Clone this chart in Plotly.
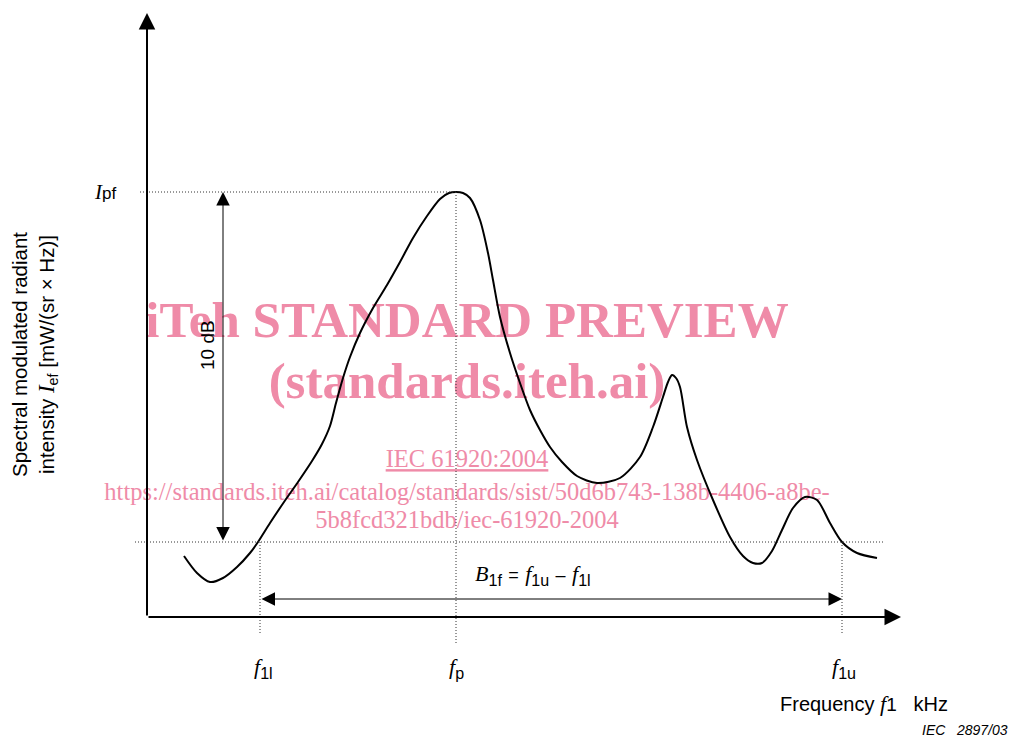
import plotly.graph_objects as go

# ---- data (arbitrary schematic units: frequency, spectral intensity) ----
freq = [3.7, 5.0, 6.3, 7.6, 9.0, 10.3, 11.1, 12.3, 13.7, 15.1,
        16.5, 17.5, 18.3, 18.9, 19.6, 20.3, 21.3, 22.6, 24.0, 25.3,
        26.6, 28.0, 29.3, 30.2, 30.9, 31.6, 32.3, 33.3, 34.1, 34.6,
        35.3, 36.3, 37.3, 38.3, 39.3, 40.3, 41.5, 43.0, 45.0, 47.3,
        49.3, 50.6, 51.6, 52.1, 52.5, 52.9, 53.3, 54.0, 55.0, 56.6,
        58.3, 59.6, 60.6, 61.5, 62.5, 63.5, 64.6, 65.8, 67.0, 68.3,
        69.5, 71.0, 73.0]
intensity = [6.1, 4.4, 3.5, 3.9, 5.0, 6.4, 7.5, 9.4, 11.5, 13.5,
             15.6, 17.3, 19.1, 21.4, 23.9, 26.0, 28.4, 30.9, 33.2, 35.5,
             37.9, 40.1, 41.8, 42.4, 42.5, 42.4, 41.9, 39.7, 36.4, 33.7,
             30.0, 26.4, 23.4, 20.7, 18.7, 17.0, 15.5, 14.1, 13.4, 13.9,
             16.0, 19.0, 22.0, 23.5, 24.2, 23.9, 23.0, 19.0, 15.7, 11.7,
             8.0, 6.1, 5.4, 5.4, 6.6, 8.7, 10.9, 12.0, 11.7, 9.4,
             7.5, 6.4, 5.9]

f_1l = 11.3      # lower band limit
f_p = 30.9       # peak frequency
f_1u = 69.5      # upper band limit
I_pf = 42.5      # peak intensity
I_10dB = 7.5     # level 10 dB below peak
x_axis_end = 75.4
y_axis_end = 60.4

watermark = ["iTeh STANDARD PREVIEW", "(standards.iteh.ai)", "IEC 61920:2004",
             "https://standards.iteh.ai/catalog/standards/sist/50d6b743-138b-4406-a8be-",
             "5b8fcd321bdb/iec-61920-2004"]

PINK = "rgb(239,139,168)"
SERIF = "Liberation Serif"
SANS = "Liberation Sans"

fig = go.Figure()

# watermark (drawn below the curve)
wm_x = 32.0
fig.add_trace(go.Scatter(x=[wm_x], y=[29.3], mode="text", text=["<b>" + watermark[0] + "</b>"],
                         textfont=dict(family=SERIF, size=51, color=PINK), hoverinfo="skip", showlegend=False))
fig.add_trace(go.Scatter(x=[wm_x], y=[23.2], mode="text", text=["<b>" + watermark[1] + "</b>"],
                         textfont=dict(family=SERIF, size=51, color=PINK), hoverinfo="skip", showlegend=False))
fig.add_trace(go.Scatter(x=[wm_x], y=[15.6], mode="text", text=["<u>" + watermark[2] + "</u>"],
                         textfont=dict(family=SERIF, size=24.5, color=PINK), hoverinfo="skip", showlegend=False))
fig.add_trace(go.Scatter(x=[wm_x], y=[12.3], mode="text", text=[watermark[3]],
                         textfont=dict(family=SERIF, size=24.5, color=PINK), hoverinfo="skip", showlegend=False))
fig.add_trace(go.Scatter(x=[wm_x], y=[9.5], mode="text", text=[watermark[4]],
                         textfont=dict(family=SERIF, size=24.5, color=PINK), hoverinfo="skip", showlegend=False))

# spectrum curve
fig.add_trace(go.Scatter(x=freq, y=intensity, mode="lines",
                         line=dict(color="black", width=2, shape="spline", smoothing=0.8),
                         hoverinfo="skip", showlegend=False))

# dotted guide lines
dot = dict(color="#333", width=1, dash="1px,2px")
fig.add_shape(type="line", x0=-0.7, x1=f_p, y0=I_pf, y1=I_pf, line=dot)
fig.add_shape(type="line", x0=-1.2, x1=73.8, y0=I_10dB, y1=I_10dB, line=dot)
fig.add_shape(type="line", x0=f_p, x1=f_p, y0=I_pf, y1=-2.8, line=dot)
fig.add_shape(type="line", x0=f_1l, x1=f_1l, y0=I_10dB, y1=-1.6, line=dot)
fig.add_shape(type="line", x0=f_1u, x1=f_1u, y0=I_10dB, y1=-1.6, line=dot)

# axes with arrows
arrow_common = dict(xref="x", yref="y", axref="x", ayref="y", text="", showarrow=True,
                    arrowcolor="black", standoff=0, startstandoff=0)
fig.add_annotation(x=x_axis_end, y=0, ax=0, ay=0, arrowhead=2, arrowwidth=2, arrowsize=1.65, **arrow_common)
fig.add_annotation(x=0, y=y_axis_end, ax=0, ay=0, arrowhead=2, arrowwidth=2, arrowsize=1.65, **arrow_common)

# 10 dB double arrow
fig.add_annotation(x=7.6, y=I_pf, ax=7.6, ay=I_10dB, arrowhead=2, arrowwidth=1, arrowsize=2.7,
                   arrowside="end+start", startarrowhead=2, startarrowsize=2.7, **arrow_common)
# bandwidth double arrow
fig.add_annotation(x=f_1u, y=1.8, ax=f_1l, ay=1.8, arrowhead=2, arrowwidth=1, arrowsize=2.7,
                   arrowside="end+start", startarrowhead=2, startarrowsize=2.7, **arrow_common)


def it(s, size):
    return f"<span style='font-family:{SERIF};font-size:{size}px'><i>{s}</i></span>"


lab = dict(xref="x", yref="y", showarrow=False)

fig.add_annotation(x=-2.9, y=I_pf, xanchor="right", yanchor="middle",
                   text=it("I", 21) + "pf", font=dict(family=SANS, size=17, color="black"), **lab)
fig.add_annotation(x=6.0, y=27.2, textangle=-90, text="10 dB",
                   font=dict(family=SANS, size=19, color="black"), **lab)

sub_font = dict(family=SANS, size=23, color="black")
fig.add_annotation(x=f_1l + 0.3, y=-5.1, text=it("f", 22) + "<sub>1l</sub>", font=sub_font, **lab)
fig.add_annotation(x=f_p, y=-5.1, text=it("f", 22) + "<sub>p</sub>", font=sub_font, **lab)
fig.add_annotation(x=f_1u + 0.2, y=-5.1, text=it("f", 22) + "<sub>1u</sub>", font=sub_font, **lab)

fig.add_annotation(x=38.6, y=4.3,
                   text=it("B", 22) + "<sub>1f</sub> <span style='font-size:18px'>=</span> "
                        + it("f", 22) + "<sub>1u</sub> <span style='font-size:18px'>\u2013</span> "
                        + it("f", 22) + "<sub>1l</sub>",
                   font=sub_font, **lab)

fig.add_annotation(x=63.1, y=-8.6, xanchor="left",
                   text="Frequency " + it("f", 22) + "<span style='font-size:19px'>1</span>&nbsp;&nbsp;&nbsp;kHz",
                   font=dict(family=SANS, size=20, color="black"), **lab)
fig.add_annotation(x=86.3, y=-12.3, xanchor="right", yanchor="bottom", text="<i>IEC&nbsp;&nbsp;&nbsp;2897/03</i>",
                   font=dict(family=SANS, size=14, color="black"), **lab)

fig.add_annotation(x=-11.3, y=26.2, textangle=-90,
                   text="Spectral modulated radiant<br>intensity " + it("I", 23)
                        + "<sub>ef</sub> [mW/(sr \u00d7 Hz)]",
                   font=dict(family=SANS, size=20.5, color="black"), **lab)

fig.update_layout(
    width=1014, height=742, margin=dict(l=0, r=0, t=0, b=0),
    paper_bgcolor="white", plot_bgcolor="white",
    xaxis=dict(range=[-14.7, 86.7], visible=False, fixedrange=True),
    yaxis=dict(range=[-12.5, 61.7], visible=False, fixedrange=True),
    showlegend=False,
)

fig.write_html("out.html")
